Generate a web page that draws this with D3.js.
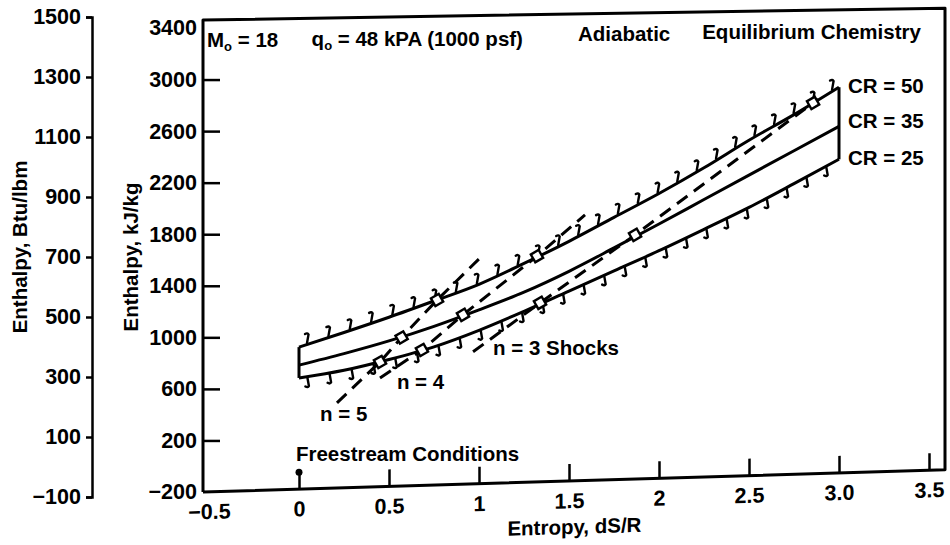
<!DOCTYPE html>
<html><head><meta charset="utf-8">
<script src="https://cdn.jsdelivr.net/npm/d3@7"></script>
<style>
body{margin:0;background:#fff}
text{font-family:"Liberation Sans",Arial,Helvetica,sans-serif;font-weight:bold;fill:#000}
</style>
</head><body>
<svg id="chart" width="950" height="545"></svg>
<script>
// ---------------- data ----------------
const entropy = [0, 0.25, 0.5, 0.75, 1.0, 1.25, 1.5, 1.75, 2.0, 2.25, 2.5, 2.75, 3.0];
const hCR50 = [905, 1010, 1120, 1238, 1360, 1515, 1680, 1860, 2040, 2235, 2445, 2640, 2850];
const hCR35 = [765, 845, 935, 1040, 1160, 1290, 1445, 1620, 1800, 1985, 2170, 2355, 2540];
const hCR25 = [665, 715, 790, 880, 1000, 1140, 1290, 1440, 1590, 1750, 1915, 2095, 2280];
const crLabels = ["CR = 50", "CR = 35", "CR = 25"];

// shock-process lines (first/last = line ends, inner points = open squares)
const shock5S = [0.211, 0.45, 0.57, 0.767, 1.006];
const shock5H = [463, 773, 960, 1245, 1566];
const shock4S = [0.45, 0.683, 0.911, 1.322, 1.589];
const shock4H = [648, 858, 1124, 1570, 1885];
const shock3S = [0.967, 1.339, 1.867, 2.856, 2.883];
const shock3H = [833, 1203, 1719, 2730, 2761];
const shockLabels = ["n = 5", "n = 4", "n = 3 Shocks"];

const freestreamS = [0];
const freestreamH = [-68];

const kjTicks = [3400, 3000, 2600, 2200, 1800, 1400, 1000, 600, 200, -200];
const btuTicks = [1500, 1300, 1100, 900, 700, 500, 300, 100, -100];
const sTicks = [-0.5, 0, 0.5, 1, 1.5, 2, 2.5, 3.0, 3.5];
const sTickLabels = ["\u22120.5", "0", "0.5", "1", "1.5", "2", "2.5", "3.0", "3.5"];

// ---------------- layout ----------------
const svg = d3.select("#chart");
const FL = 203, FR = 945, FT = 20, FB = 492;
const kTop = 0.016, kBot = 0.030;           // scan skew (top / bottom of frame)
const xS = d3.scaleLinear().domain([-0.5, 3.5]).range([209, 929]);
const yS = d3.scaleLinear().domain([-200, 3400]).range([FB, 28]);
const yO = d3.scaleLinear().domain([-100, 1500]).range([497, 17]);

const kAt = y0 => kTop + (kBot - kTop) * (y0 - FT) / (FB - FT);
const P = (s, h) => { const x = xS(s), y0 = yS(h); return [x, y0 - kAt(y0) * (x - FL)]; };

const black = "#000";
const tickFont = "21.5px", textFont = "20.5px";

// ---------------- frame ----------------
const cTL = [FL, FT], cTR = [FR, FT - kTop * (FR - FL)], cBR = [FR, FB - kBot * (FR - FL)], cBL = [FL, FB];
svg.append("path")
  .attr("d", `M${cBL}L${cTL}L${cTR}L${cBR}L${cBL}`)
  .attr("fill", "none").attr("stroke", black).attr("stroke-width", 3).attr("stroke-linejoin", "round");

// ---------------- inner left axis (kJ/kg) ----------------
const gL = svg.append("g").attr("transform", `translate(${FL},0)`)
  .call(d3.axisLeft(yS).tickValues(kjTicks).tickSize(-17).tickSizeOuter(0).tickPadding(6)
    .tickFormat(d => d < 0 ? "\u2212" + Math.abs(d) : d));
gL.select(".domain").remove();
gL.selectAll(".tick line").attr("stroke", black).attr("stroke-width", 2.5)
  .filter(d => d === 3400 || d === -200).remove();
gL.selectAll(".tick text").style("font-size", tickFont).attr("font-family", null);

// ---------------- outer left axis (Btu/lbm) ----------------
const gO = svg.append("g").attr("transform", "translate(92,0)")
  .call(d3.axisLeft(yO).tickValues(btuTicks).tickSize(6).tickSizeOuter(6).tickPadding(5)
    .tickFormat(d => d < 0 ? "\u2212" + Math.abs(d) : d));
gO.select(".domain").attr("stroke", black).attr("stroke-width", 2.5);
gO.selectAll(".tick line").attr("stroke", black).attr("stroke-width", 2.5);
gO.selectAll(".tick text").style("font-size", tickFont).attr("font-family", null);

// ---------------- bottom axis (skewed like the scan) ----------------
const skewDeg = -Math.atan(kBot) * 180 / Math.PI;
const gB = svg.append("g")
  .attr("transform", `translate(${FL},${FB}) skewY(${skewDeg}) translate(${-FL},0)`)
  .call(d3.axisBottom(xS).tickValues(sTicks).tickSize(-17).tickSizeOuter(0).tickPadding(12)
    .tickFormat((d, i) => sTickLabels[i]));
gB.select(".domain").remove();
gB.selectAll(".tick line").attr("stroke", black).attr("stroke-width", 2.5)
  .filter(d => d === -0.5).remove();
gB.selectAll(".tick text").style("font-size", tickFont).attr("font-family", null);
gB.append("text").attr("x", xS(1.53)).attr("y", 53).attr("text-anchor", "middle")
  .style("font-size", textFont).text("Entropy, dS/R");

// ---------------- axis titles ----------------
svg.append("text").attr("transform", "translate(27,247) rotate(-90)").attr("text-anchor", "middle")
  .style("font-size", textFont).text("Enthalpy, Btu/lbm");
svg.append("text").attr("transform", "translate(138,257) rotate(-90)").attr("text-anchor", "middle")
  .style("font-size", textFont).text("Enthalpy, kJ/kg");

// ---------------- curves ----------------
const line = d3.line().curve(d3.curveMonotoneX);
const curves = [hCR50, hCR35, hCR25];
const paths = curves.map(hs => svg.append("path")
  .attr("d", line(entropy.map((s, i) => P(s, hs[i]))))
  .attr("fill", "none").attr("stroke", black).attr("stroke-width", 3));

// end caps
const last = entropy.length - 1;
[0, last].forEach(i => {
  const a = P(entropy[i], hCR50[i]), b = P(entropy[i], hCR25[i]);
  svg.append("line").attr("x1", a[0]).attr("y1", a[1]).attr("x2", b[0]).attr("y2", b[1])
    .attr("stroke", black).attr("stroke-width", 3);
});

// hatch marks (CR=50 above, CR=25 below)
function hatch(pathSel, dir) {
  const node = pathSel.node(), L = node.getTotalLength();
  for (let l = 10; l < L - 6; l += 22.5) {
    const p = node.getPointAtLength(l);
    svg.append("path")
      .attr("d", `M${p.x - 1.5},${p.y + dir * 1}L${p.x},${p.y + dir * 9.5}Q${p.x - 1},${p.y + dir * 11.5} ${p.x - 3.5},${p.y + dir * 10}`)
      .attr("fill", "none").attr("stroke", black).attr("stroke-width", 2.4).attr("stroke-linecap", "round");
  }
}
hatch(paths[0], -1);
hatch(paths[2], 1);

// ---------------- shock lines ----------------
const shocks = [[shock5S, shock5H], [shock4S, shock4H], [shock3S, shock3H]];
const lin = d3.line();
shocks.forEach(([ss, hs]) => {
  svg.append("path").attr("d", lin(ss.map((s, i) => P(s, hs[i]))))
    .attr("fill", "none").attr("stroke", black).attr("stroke-width", 3)
    .attr("stroke-dasharray", "13,8");
});
shocks.forEach(([ss, hs]) => {
  ss.forEach((s, i) => {
    if (i === 0 || i === ss.length - 1) return;
    const [x, y] = P(s, hs[i]);
    svg.append("rect").attr("x", x - 4.5).attr("y", y - 4.5).attr("width", 9).attr("height", 9)
      .attr("transform", `rotate(-30,${x},${y})`)
      .attr("fill", "#fff").attr("stroke", black).attr("stroke-width", 2.4);
  });
});

// ---------------- freestream point ----------------
freestreamS.forEach((s, i) => {
  const [x, y] = P(s, freestreamH[i]);
  svg.append("circle").attr("cx", x).attr("cy", y).attr("r", 3.5).attr("fill", black);
});

// ---------------- annotations ----------------
function label(s, h, txt) {
  const [x, y] = P(s, h);
  return svg.append("text").attr("x", x).attr("y", y).style("font-size", textFont).text(txt);
}
const m = label(-0.511, 3250, "M");
m.append("tspan").attr("dy", 4).style("font-size", "13px").text("o");
m.append("tspan").attr("dy", -4).text(" = 18");
const q = label(0.07, 3250, "q");
q.append("tspan").attr("dy", 4).style("font-size", "13px").text("o");
q.append("tspan").attr("dy", -4).text(" = 48 kPA (1000 psf)");
label(1.55, 3250, "Adiabatic");
label(2.24, 3250, "Equilibrium Chemistry");

label(3.05, hCR50[last] - 45, crLabels[0]);
label(3.05, hCR35[last] - 10, crLabels[1]);
label(3.05, hCR25[last] - 45, crLabels[2]);

label(0.117, 325, shockLabels[0]);
label(0.544, 559, shockLabels[1]);
label(1.078, 805, shockLabels[2]);
label(-0.017, 20, "Freestream Conditions");
</script>
</body></html>
